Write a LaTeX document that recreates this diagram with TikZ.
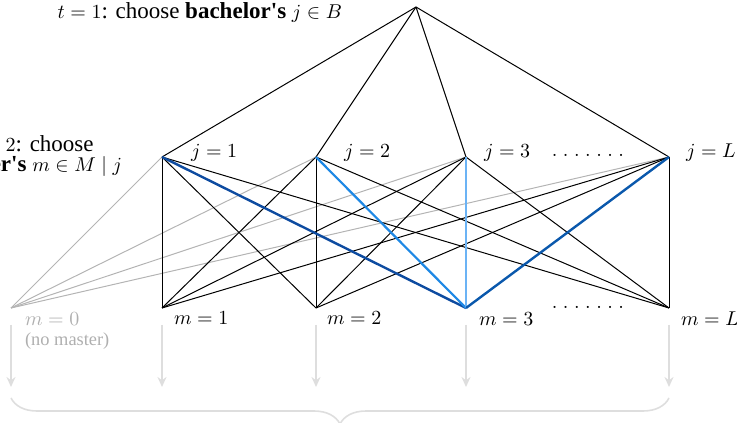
\documentclass[tikz,border=0pt]{standalone}
\usepackage{amsmath}
\usepackage{fontspec}
\setmainfont{Liberation Serif}[Scale=1.15]
\usetikzlibrary{arrows.meta,decorations.pathreplacing}

\definecolor{edgegray}{RGB}{180,180,180}
\definecolor{lightgray}{RGB}{222,222,222}
\definecolor{textgray}{RGB}{175,175,175}
\definecolor{bluedark}{RGB}{13,75,160}
\definecolor{bluedeep}{RGB}{10,88,172}
\definecolor{bluemid}{RGB}{30,136,229}
\definecolor{bluelight}{RGB}{107,179,245}

\begin{document}
\begin{tikzpicture}[x=0.5pt,y=0.5pt,>={Stealth[length=5pt,width=4.5pt]}]
\clip (0,0) rectangle (737,422);

% Decision points
\coordinate (root) at (416,415);
\coordinate (m0) at (11,114);
\coordinate (a0) at (11,35);
\coordinate (b0) at (11,24);
\foreach \n/\x in {1/162,2/316,3/466,L/669} {
    \coordinate (j\n) at (\x,265);
    \coordinate (m\n) at (\x,114);
    \coordinate (a\n) at (\x,35);
}
\coordinate (bL) at (669,24);

% Stage labels
\node[left] (tone) at (350,410) {$t=1$: choose \textbf{bachelor\textquotesingle s} $j\in B$};
\node[left,align=center] (ttwo) at (130,266) {$t=2$: choose\\[-2pt]\textbf{master\textquotesingle s} $m\in M\mid j$};

% First stage
\foreach \n in {1,2,3,L}
    \draw[line width=0.5pt] (root) -- (j\n);

% No master option
\foreach \n in {1,2,3,L}
    \draw[edgegray,line width=0.5pt] (j\n) -- (m0);

% Second stage
\foreach \n in {1,2,3,L}
    \foreach \k in {1,2,L}
        \draw[line width=0.5pt] (j\n) -- (m\k);

% Paths into m=3
\draw[bluedark,line width=1.2pt] (j1) -- (m3);
\draw[bluemid,line width=1.1pt] (j2) -- (m3);
\draw[bluelight,line width=1pt] (j3) -- (m3);
\draw[bluedeep,line width=1.2pt] (jL) -- (m3);

% Labels on the j row
\node[right] (lj1) at (183,269.5) {$j=1$};
\node[right] (lj2) at (336,269.5) {$j=2$};
\node[right] (lj3) at (476,269.5) {$j=3$};
\node[right] (ljL) at (678,269.5) {$j=L$};
\node[anchor=base] (dj) at (588,265) {$.\;.\;.\;.\;.\;.\;.$};

% Labels on the m row
\node[right,textgray] (lm0) at (17,103) {$m=0$};
\node[right,textgray,font=\footnotesize] (nm0) at (17,81) {(no master)};
\node[right] (lm1) at (166,104) {$m=1$};
\node[right] (lm2) at (319,104) {$m=2$};
\node[right] (lm3) at (471,103) {$m=3$};
\node[right] (lmL) at (673,103) {$m=L$};
\node[anchor=base] (dm) at (588,113) {$.\;.\;.\;.\;.\;.\;.$};

% Arrows down to the next stage
\foreach \n in {0,1,2,3,L}
    \draw[->,lightgray,line width=0.8pt,shorten <=8.5pt] (m\n) -- (a\n);

\draw[lightgray,line width=0.8pt,decorate,decoration={brace,mirror,amplitude=13pt}] (b0) -- (bL);

\end{tikzpicture}
\end{document}
